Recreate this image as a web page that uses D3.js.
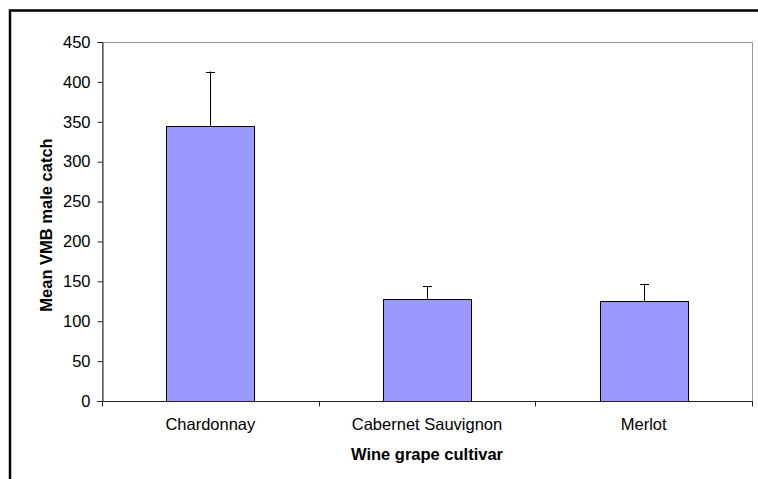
<!DOCTYPE html>
<html>
<head>
<meta charset="utf-8">
<script src="https://cdn.jsdelivr.net/npm/d3@7"></script>
<style>
  html, body { margin: 0; padding: 0; background: #fff; }
  svg { display: block; }
  text { font-family: "Liberation Sans", Arial, sans-serif; fill: #000; }
</style>
</head>
<body>
<svg id="chart" width="758" height="479"></svg>
<script>
const categories = ["Chardonnay", "Cabernet Sauvignon", "Merlot"];
const means = [345, 128, 125];
const errors = [68, 16, 22];
const yTicks = [0, 50, 100, 150, 200, 250, 300, 350, 400, 450];
const yTitle = "Mean VMB male catch";
const xTitle = "Wine grape cultivar";

const svg = d3.select("#chart");
const W = 758, H = 479;
const plot = { left: 102, right: 752, top: 42, bottom: 401 };

// outer chart border (only left and top visible)
svg.append("rect")
  .attr("x", 10).attr("y", 10.5)
  .attr("width", W + 20).attr("height", H + 20)
  .attr("fill", "none").attr("stroke", "#000").attr("stroke-width", 2.5);

const x = d3.scaleBand().domain(categories).range([plot.left, plot.right]).paddingInner(0).paddingOuter(0);
const y = d3.scaleLinear().domain([0, 450]).range([plot.bottom, plot.top]);

// plot area border (grey)
svg.append("rect")
  .attr("x", plot.left + 0.5).attr("y", plot.top + 0.5)
  .attr("width", plot.right - plot.left).attr("height", plot.bottom - plot.top)
  .attr("fill", "none").attr("stroke", "#999").attr("stroke-width", 1);

const barFrac = 0.406;
const barW = x.bandwidth() * barFrac;

const data = categories.map((c, i) => ({ c, m: means[i], e: errors[i] }));

// error bars (positive only)
const eb = svg.append("g");
data.forEach(d => {
  const cx = Math.round(x(d.c) + x.bandwidth() / 2) + 0.5;
  eb.append("line").attr("x1", cx).attr("x2", cx)
    .attr("y1", y(d.m)).attr("y2", y(d.m + d.e))
    .attr("stroke", "#000").attr("stroke-width", 1);
  eb.append("line").attr("x1", cx - 4.5).attr("x2", cx + 4.5)
    .attr("y1", Math.round(y(d.m + d.e)) + 0.5).attr("y2", Math.round(y(d.m + d.e)) + 0.5)
    .attr("stroke", "#000").attr("stroke-width", 1);
});

// bars
svg.append("g").selectAll("rect").data(data).join("rect")
  .attr("x", d => Math.round(x(d.c) + (x.bandwidth() - barW) / 2) + 0.5)
  .attr("y", d => Math.round(y(d.m)) + 0.5)
  .attr("width", Math.round(barW))
  .attr("height", d => Math.round(y(0)) - Math.round(y(d.m)))
  .attr("fill", "#9999FF").attr("stroke", "#000").attr("stroke-width", 1);

// y axis
const yAxis = svg.append("g")
  .attr("transform", `translate(${plot.left + 0.5},0)`)
  .call(d3.axisLeft(y).tickValues(yTicks).tickSize(5).tickPadding(7).tickFormat(d3.format("d")));
yAxis.select(".domain").attr("stroke", "#222");
yAxis.selectAll(".tick line").attr("stroke", "#222");
yAxis.selectAll(".tick text")
  .style("font-family", '"Liberation Sans", Arial, sans-serif')
  .style("font-size", "16.5px").attr("fill", "#000");

// x axis line + ticks at category boundaries
const xAxisG = svg.append("g").attr("transform", `translate(0,${plot.bottom + 0.5})`);
xAxisG.append("line").attr("x1", plot.left).attr("x2", plot.right + 1)
  .attr("stroke", "#222").attr("stroke-width", 1);
const bounds = categories.map(c => x(c)).concat([x(categories[categories.length - 1]) + x.bandwidth()]);
xAxisG.selectAll(".bt").data(bounds).join("line")
  .attr("x1", d => Math.round(d) + 0.5).attr("x2", d => Math.round(d) + 0.5)
  .attr("y1", 0).attr("y2", 5).attr("stroke", "#222");
xAxisG.selectAll(".cl").data(categories).join("text")
  .attr("x", d => x(d) + x.bandwidth() / 2)
  .attr("y", 28)
  .attr("text-anchor", "middle")
  .style("font-size", "16.5px")
  .text(d => d);

// axis titles
svg.append("text")
  .attr("x", (plot.left + plot.right) / 2).attr("y", 460)
  .attr("text-anchor", "middle")
  .style("font-size", "16.5px").style("font-weight", "bold")
  .text(xTitle);

svg.append("text")
  .attr("transform", `translate(52,${225}) rotate(-90)`)
  .attr("text-anchor", "middle")
  .style("font-size", "16.5px").style("font-weight", "bold")
  .text(yTitle);
</script>
</body>
</html>
